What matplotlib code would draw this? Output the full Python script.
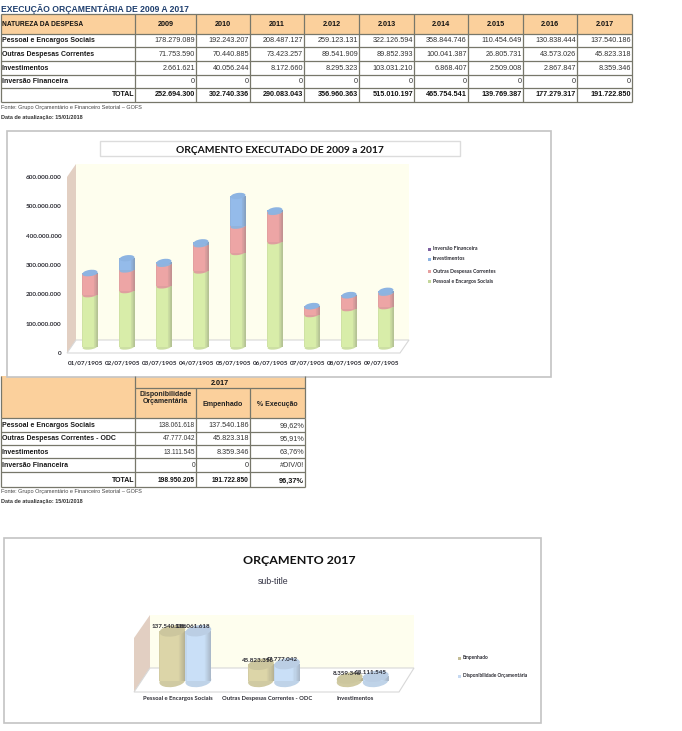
import matplotlib
matplotlib.use('Agg')
import matplotlib.pyplot as plt
from matplotlib.colors import to_rgb
from matplotlib.patches import Ellipse, Polygon, Rectangle
from matplotlib.transforms import IdentityTransform

W, H = 682, 731

# dados da tabela 1
anos = ['2009', '2010', '2011', '2.012', '2.013', '2.014', '2.015', '2.016', '2.017']
pessoal = [178279089, 192243207, 208487127, 259123131, 322126594, 358844746, 110454649, 130838444, 137540186]
outras = [71753590, 70440885, 73423257, 89541909, 89852393, 100041387, 26805731, 43573026, 45823318]
investimentos = [2661621, 40056244, 8172660, 8295323, 103031210, 6868407, 2509008, 2867847, 8359346]
inversao = [0, 0, 0, 0, 0, 0, 0, 0, 0]
totais = [252694300, 302740336, 290083043, 356960363, 515010197, 465754541, 139769387, 177279317, 191722850]
datas = ['01/07/1905', '02/07/1905', '03/07/1905', '04/07/1905', '05/07/1905',
         '06/07/1905', '07/07/1905', '08/07/1905', '09/07/1905']
linhas1 = ['Pessoal e Encargos Sociais', 'Outras Despesas Correntes', 'Investimentos', 'Inversão Financeira']

# dados da tabela 2
linhas2 = ['Pessoal e Encargos Sociais', 'Outras Despesas Correntes - ODC', 'Investimentos', 'Inversão Financeira']
disponibilidade = [138061618, 47777042, 13111545, 0]
empenhado = [137540186, 45823318, 8359346, 0]
execucao = ['99,62%', '95,91%', '63,76%', '#DIV/0!']
total2 = ['198.950.205', '191.722.850', '96,37%']
grupos2 = ['Pessoal e Encargos Sociais', 'Outras Despesas Correntes - ODC', 'Investimentos']

y_ticks1 = [0, 100000000, 200000000, 300000000, 400000000, 500000000, 600000000]

ORANGE = '#fbd09c'
LINE = '#77776a'
SANS = 'Liberation Sans'
CHART = 'Lato'
LABEL = '#2b2b33'


def fmt(v):
    return f'{v:,}'.replace(',', '.')


def px_axes(x0, y0, x1, y1):
    a = fig.add_axes([x0 / W, 1 - y1 / H, (x1 - x0) / W, (y1 - y0) / H], zorder=3)
    a.patch.set_alpha(0)
    for s in a.spines.values():
        s.set_visible(False)
    return a


def mix(c, other, t):
    c, other = to_rgb(c), to_rgb(other)
    return tuple(c[i] * (1 - t) + other[i] * t for i in range(3))


def ellipse(a, x, y, w_px, h_px, color, angle=8):
    cx, cy = a.transData.transform((x, y))
    a.add_patch(Ellipse((cx, cy), w_px, h_px, angle=angle, color=color, lw=0,
                        transform=IdentityTransform(), clip_on=False))


def cylinder(a, x, bottom, height, width, w_px, h_px, color):
    ellipse(a, x, bottom, w_px, h_px, mix(color, '#777777', 0.12))
    n = 24
    for i in range(n):
        t = (i + 0.5) / n
        # mais escuro so perto da borda direita
        dark = max(0, t - 0.72) * 1.2 + max(0, 0.06 - t) * 2
        a.bar(x - width / 2 + t * width, height, width / n * 1.1, bottom=bottom,
              color=mix(color, '#666666', dark), lw=0, clip_on=False)


def table_grid(xs, ys, color=LINE):
    ax.hlines(ys, xs[0], xs[-1], color=color, lw=0.9)
    ax.vlines(xs, ys[0], ys[-1], color=color, lw=0.9)


fig = plt.figure(figsize=(W / 100, H / 100), dpi=100)
ax = fig.add_axes([0, 0, 1, 1], zorder=1)
ax.set_xlim(0, W)
ax.set_ylim(H, 0)
ax.axis('off')

# ---- tabela 1
ax.text(1, 9, 'EXECUÇÃO ORÇAMENTÁRIA DE 2009 A 2017', family=SANS, weight='bold', fontsize=6.25,
        color='#1f3f6e', va='center')
xs1 = [1, 135, 196, 250, 304, 359, 414, 468, 523, 577, 632]
ys1 = [14, 33.5, 47, 61, 75, 88, 102]
ax.add_patch(Rectangle((xs1[0], ys1[0]), xs1[-1] - xs1[0], ys1[1] - ys1[0], color=ORANGE, lw=0))
table_grid(xs1, ys1)
ax.text(2, 24, 'NATUREZA DA DESPESA', family=SANS, weight='bold', fontsize=4.8, va='center', color='#111111')
for i, ano in enumerate(anos):
    ax.text((xs1[i + 1] + xs1[i + 2]) / 2, 24, ano, family=SANS, weight='bold', fontsize=5.2,
            ha='center', va='center', color='#111111')
for r, (nome, serie) in enumerate(zip(linhas1, [pessoal, outras, investimentos, inversao])):
    yc = (ys1[r + 1] + ys1[r + 2]) / 2
    ax.text(2, yc, nome, family=SANS, weight='bold', fontsize=5.0, va='center', color='#1a1a1a')
    for i, v in enumerate(serie):
        ax.text(xs1[i + 2] - 1, yc, fmt(v), family=SANS, fontsize=5.2, ha='right', va='center', color='#333333')
ax.text(xs1[1] - 1, 95, 'TOTAL', family=SANS, weight='bold', fontsize=5.0, ha='right', va='center', color='#111111')
for i, v in enumerate(totais):
    ax.text(xs1[i + 2] - 1, 95, fmt(v), family=SANS, weight='bold', fontsize=5.2, ha='right', va='center', color='#111111')
ax.text(1, 107.5, 'Fonte: Grupo Orçamentário e Financeiro Setorial – GOFS', family=SANS, fontsize=4.0, va='center', color='#444444')
ax.text(1, 118, 'Data de atualização: 15/01/2018', family=SANS, weight='bold', fontsize=4.0, va='center', color='#333333')

# ---- tabela 2
xs2 = [1, 135, 196, 250, 305]
ys2 = [418, 432, 445, 458, 472, 487]
ax.add_patch(Rectangle((1, 376), 304, 42, color=ORANGE, lw=0))
table_grid(xs2, ys2)
ax.hlines([388], 135, 305, color=LINE, lw=0.9)
ax.vlines(xs2[1], 376, 418, color=LINE, lw=0.9)
ax.vlines(xs2[2:4], 388, 418, color=LINE, lw=0.9)
ax.vlines([xs2[0], xs2[4]], 376, 418, color=LINE, lw=0.9)
ax.text(220, 383.5, '2.017', family=SANS, weight='bold', fontsize=5.2, ha='center', va='center', color='#111111')
ax.text(165.5, 398, 'Disponibilidade\nOrçamentária', family=SANS, weight='bold', fontsize=5.0, ha='center', va='center',
        color='#222222', linespacing=1.05)
ax.text(223, 404, 'Empenhado', family=SANS, weight='bold', fontsize=5.0, ha='center', va='center', color='#222222')
ax.text(277.5, 404, '% Execução', family=SANS, weight='bold', fontsize=5.0, ha='center', va='center', color='#222222')
for r, nome in enumerate(linhas2):
    yc = (ys2[r] + ys2[r + 1]) / 2 + 0.5
    ax.text(2, yc, nome, family=SANS, weight='bold', fontsize=5.0, va='center', color='#1a1a1a')
    ax.text(195, yc, fmt(disponibilidade[r]), family=SANS, fontsize=4.7, ha='right', va='center', color='#333333')
    ax.text(249, yc, fmt(empenhado[r]), family=SANS, fontsize=5.2, ha='right', va='center', color='#333333')
    ax.text(304, yc, execucao[r], family=SANS, fontsize=5.2, ha='right', va='center', color='#333333')
ax.text(134, 481, 'TOTAL', family=SANS, weight='bold', fontsize=5.0, ha='right', va='center', color='#111111')
for x, s, fs in zip(xs2[2:], total2, [4.8, 4.8, 5.3]):
    ax.text(x - 1, 481, s, family=SANS, weight='bold', fontsize=fs, ha='right', va='center', color='#111111')
ax.text(1, 491.5, 'Fonte: Grupo Orçamentário e Financeiro Setorial – GOFS', family=SANS, fontsize=4.0, va='center', color='#444444')
ax.text(1, 501.5, 'Data de atualização: 15/01/2018', family=SANS, weight='bold', fontsize=4.0, va='center', color='#333333')

# ---- grafico 1: moldura e paredes
ax.add_patch(Rectangle((7, 131), 544, 246, fc='white', ec='#c4c4c4', lw=1.2))
ax.add_patch(Rectangle((99.5, 141), 360, 15, fc='white', ec='#dcdcdc', lw=1))
ax.text(279.5, 150.5, 'ORÇAMENTO EXECUTADO DE 2009 a 2017', family=CHART, weight='bold', fontsize=7.4,
        ha='center', va='center', color='#111111')
ax.add_patch(Rectangle((76, 164), 333, 176, fc='#fefeee', lw=0))
ax.add_patch(Polygon([(67, 177), (76, 164), (76, 340), (67, 353)], fc='#e2cfc2', lw=0))
ax.add_patch(Polygon([(76, 340), (409, 340), (400, 353), (67, 353)], fc='white', ec='#d8d8d8', lw=0.8))

ax_t = px_axes(67, 177, 400, 353)
ax_t.set_ylim(0, 600000000)
ax_t.set_xticks([])
ax_t.set_yticks(y_ticks1)
ax_t.set_yticklabels([fmt(v) for v in y_ticks1], family=CHART, weight='bold', fontsize=4.6, color=LABEL)
ax_t.tick_params(axis='y', length=0, pad=4)

ax_b = px_axes(71.5, 171, 404.5, 347)
ax_b.set_xlim(-0.5, 8.5)
ax_b.set_ylim(0, 600000000)
ax_b.set_yticks([])
ax_b.set_xticks([i - 0.11 for i in range(len(datas))])
ax_b.set_xticklabels(datas, family=CHART, weight='bold', fontsize=4.6, color=LABEL)
ax_b.tick_params(axis='x', length=0, pad=10)
for i in range(len(datas)):
    base = 0
    for serie, cor in zip([pessoal, outras, investimentos], ['#d8eda9', '#eda5a5', '#94bbea']):
        cylinder(ax_b, i, base, serie[i], 0.405, 15, 5, cor)
        base += serie[i]
    ellipse(ax_b, i, base, 15, 6, '#8db4e2')

legenda1 = [('Inversão Financeira', '#7d60a0', 249), ('Investimentos', '#8db4e2', 259),
            ('Outras Despesas Correntes', '#e6a0a0', 271), ('Pessoal e Encargos Sociais', '#c4d79b', 281)]
for nome, cor, y in legenda1:
    ax.add_patch(Rectangle((427.5, y - 1.5), 3, 3, color=cor, lw=0))
    ax.text(433, y, nome, family=CHART, weight='bold', fontsize=3.7, va='center', color=LABEL)

# ---- grafico 2: moldura e paredes
ax.add_patch(Rectangle((4, 538), 537, 185, fc='white', ec='#c4c4c4', lw=1.2))
ax.text(299, 561, 'ORÇAMENTO 2017', family=CHART, weight='bold', fontsize=8.9, ha='center', va='center', color='#111111')
ax.text(273, 582, 'sub-title', family=SANS, fontsize=6.3, ha='center', va='center', color='#333344')
ax.add_patch(Rectangle((150, 615), 264, 53, fc='#fefeee', lw=0))
ax.add_patch(Polygon([(134, 638), (150, 615), (150, 668), (134, 692)], fc='#e2cfc2', lw=0))
ax.add_patch(Polygon([(150, 668), (414, 668), (399, 692), (134, 692)], fc='white', ec='#d8d8d8', lw=0.8))

ax_c = px_axes(141, 626.4, 407, 681)
ax_c.set_xlim(-0.5, 2.5)
ax_c.set_ylim(0, 150000000)
ax_c.set_yticks([])
ax_c.set_xticks([i - 0.08 for i in range(len(grupos2))])
ax_c.set_xticklabels(grupos2, family=CHART, weight='bold', fontsize=4.25, color=LABEL)
ax_c.tick_params(axis='x', length=0, pad=10.5)
for i in range(len(grupos2)):
    for serie, cor, off, lab_dx in zip([empenhado, disponibilidade], ['#dcd5a8', '#c9dff7'], [-0.147, 0.147], [-2, -4]):
        cylinder(ax_c, i + off, 0, serie[i], 0.29, 26, 12, cor)
        ellipse(ax_c, i + off, serie[i], 26, 11, mix(cor, '#555555', 0.12))
        ax_c.annotate(fmt(serie[i]), (i + off, serie[i]), xytext=(lab_dx, 3), textcoords='offset points',
                      family=CHART, weight='bold', fontsize=4.5, ha='center', va='center',
                      color=LABEL, annotation_clip=False, zorder=5)

for nome, cor, y in [('Empenhado', '#c4bd97', 658), ('Disponibilidade Orçamentária', '#c6d9f1', 676)]:
    ax.add_patch(Rectangle((457.5, y - 1.5), 3, 3, color=cor, lw=0))
    ax.text(463, y, nome, family=CHART, weight='bold', fontsize=3.55, va='center', color=LABEL)

fig.savefig('out.png', dpi=100)
